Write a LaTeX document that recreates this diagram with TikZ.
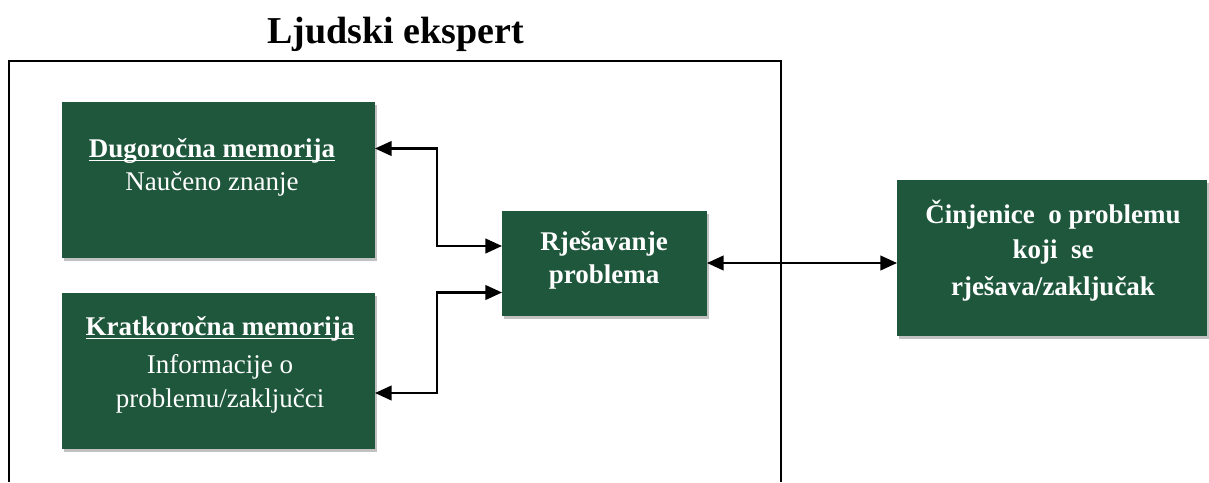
\documentclass[tikz,border=0pt]{standalone}
\usepackage{fontspec}
\setmainfont{Liberation Serif}
\usetikzlibrary{arrows.meta,shadows,fit}
\definecolor{boxgreen}{RGB}{31,87,60}
\newcommand\myul[1]{\setbox0\hbox{#1}\rlap{\rule[-3pt]{\wd0}{1.1pt}}\box0}
\begin{document}
\begin{tikzpicture}[x=0.75pt,y=-0.75pt,
  gbox/.style={draw=none, fill=boxgreen, inner sep=0pt, outer sep=0pt,
    drop shadow={shadow xshift=1.5pt, shadow yshift=-2pt, opacity=0.35, fill=black!70}},
  lbl/.style={text=white, anchor=base, inner sep=0pt, font=\fontsize{20.25}{24}\selectfont},
  blbl/.style={lbl, font=\fontsize{20.25}{24}\selectfont\bfseries},
  frame/.style={draw=black, line width=1.5pt},
  dbl/.style={draw=black, line width=1.6pt, {Triangle[length=12.5pt,width=11pt]}-{Triangle[length=12.5pt,width=11pt]}}
]
\useasboundingbox (0,0) rectangle (1209,482);
% title
\node[anchor=base, inner sep=0pt, font=\fontsize{28.5}{34}\selectfont\bfseries] (title) at (395.5,43) {Ljudski ekspert};
% outer frame (open at bottom)
\coordinate (f1) at (9,482);
\coordinate (f2) at (9,61);
\coordinate (f3) at (781,61);
\coordinate (f4) at (781,482);
\draw[frame] (f1) -- (f2) -- (f3) -- (f4);
% boxes
\node[gbox, fit={(62,102) (375,258)}] (A) {};
\node[gbox, fit={(62,293) (375,449)}] (B) {};
\node[gbox, fit={(502,211) (707,316)}] (C) {};
\node[gbox, fit={(897,180) (1207,336)}] (D) {};
% texts
\node[blbl] (a1) at (212,157) {\myul{Dugoročna memorija}};
\node[lbl] (a2) at (212,190) {Naučeno znanje};
\node[blbl] (b1) at (220,335) {\myul{Kratkoročna memorija}};
\node[lbl] (b2) at (220,373) {Informacije o};
\node[lbl] (b3) at (220,407) {problemu/zaključci};
\node[blbl] (c1) at (604,250) {Rješavanje};
\node[blbl] (c2) at (604,283) {problema};
\node[blbl] (d1) at (1053,223) {Činjenice\ \ o problemu};
\node[blbl] (d2) at (1053,258) {koji\ \ se};
\node[blbl] (d3) at (1053,295) {rješava/zaključak};
% connectors
\coordinate (ja) at (437,148.5);
\coordinate (ca) at (0,246);
\coordinate (jb) at (437,393);
\coordinate (cb) at (0,292.5);
\coordinate (cd) at (0,263);
\draw[dbl] (A.east |- ja) -- (ja) |- (C.west |- ca);
\draw[dbl] (B.east |- jb) -- (jb) |- (C.west |- cb);
\draw[dbl] (C.east |- cd) -- (D.west |- cd);
\end{tikzpicture}
\end{document}
